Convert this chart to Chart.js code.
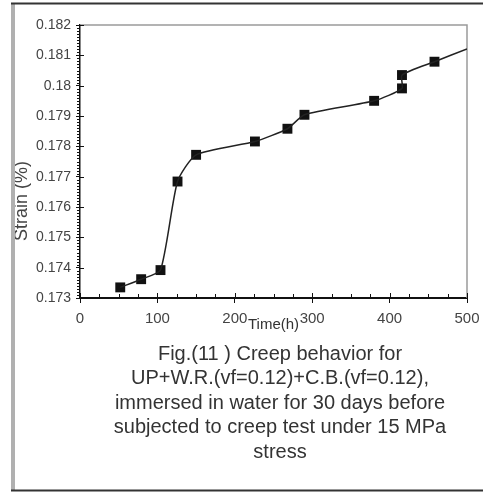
<!DOCTYPE html>
<html>
<head>
<meta charset="utf-8">
<script src="https://cdn.jsdelivr.net/npm/chart.js@4.4.0/dist/chart.umd.min.js"></script>
<style>
  html, body { margin: 0; padding: 0; background: #fff; }
  #chart { display: block; }
</style>
</head>
<body>
<canvas id="chart" width="483" height="496"></canvas>
<script>
// creep readings (time in hours, strain in %)
const hours  = [52, 79, 104, 126, 150, 226, 268, 290, 380, 416, 416, 458];
const strain = [0.17335, 0.17362, 0.17392, 0.17684, 0.17772, 0.17816, 0.17858, 0.17904, 0.1795, 0.17991, 0.18035, 0.18079];
// the fitted curve runs on to the end of the axis
const curveEndHour = 500;
const curveEndStrain = 0.18121;

const captionLines = [
    'Fig.(11 ) Creep behavior for',
    'UP+W.R.(vf=0.12)+C.B.(vf=0.12),',
    'immersed in water for 30 days before',
    'subjected to creep test under 15 MPa',
    'stress'
];

const FONT = '"Liberation Sans", Arial, sans-serif';

let readings = hours.map((h, i) => ({x: h, y: strain[i]}));
let curve = readings.concat([{x: curveEndHour, y: curveEndStrain}]);

// extra drawing: minor ticks, plot frame, y title, caption, page border
const decor = {
    id: 'decor',
    beforeDraw(chart) {
        const ctx = chart.ctx;
        ctx.save();
        ctx.fillStyle = '#fff';
        ctx.fillRect(0, 0, chart.width, chart.height);
        ctx.restore();
    },
    beforeDatasetsDraw(chart) {
        const {ctx, chartArea: a, scales: {x, y}} = chart;
        ctx.save();
        // gray top / right edges of the plot box
        ctx.strokeStyle = '#9a9a9a';
        ctx.lineWidth = 1.5;
        ctx.beginPath();
        ctx.moveTo(a.left, a.top);
        ctx.lineTo(a.right, a.top);
        ctx.lineTo(a.right, a.bottom);
        ctx.stroke();

        ctx.strokeStyle = '#111';
        ctx.lineWidth = 1;
        // y: minor ticks outside, major ticks poke inside
        for (let i = 0; i <= 90; i++) {
            let py = Math.round(y.getPixelForValue(y.min + i * 0.0001)) + 0.5;
            ctx.beginPath();
            if (i % 10 === 0) {
                ctx.moveTo(a.left, py);
                ctx.lineTo(a.left + 4, py);
            } else {
                ctx.moveTo(a.left - 3, py);
                ctx.lineTo(a.left, py);
            }
            ctx.stroke();
        }
        // x: ticks every 25 h on the inside
        for (let i = 0; i <= 20; i++) {
            let px = Math.round(x.getPixelForValue(x.min + i * 25)) + 0.5;
            ctx.beginPath();
            ctx.moveTo(px, a.bottom);
            ctx.lineTo(px, a.bottom - (i % 4 === 0 ? 5 : 4));
            ctx.stroke();
        }
        ctx.restore();
    },
    afterDraw(chart) {
        const ctx = chart.ctx;
        ctx.save();
        // y axis title
        ctx.fillStyle = '#444';
        ctx.font = '18px ' + FONT;
        ctx.textAlign = 'center';
        ctx.textBaseline = 'middle';
        ctx.translate(22, 201);
        ctx.rotate(-Math.PI / 2);
        ctx.fillText('Strain (%)', 0, 0);
        ctx.restore();

        ctx.save();
        ctx.fillStyle = '#333';
        ctx.font = '20px ' + FONT;
        ctx.textAlign = 'center';
        ctx.textBaseline = 'middle';
        captionLines.forEach((line, i) => ctx.fillText(line, 280, 354 + i * 24.5));

        // page border
        ctx.fillStyle = '#b0b0b0';
        ctx.fillRect(11, 3, 4, 488);
        ctx.strokeStyle = '#333';
        ctx.lineWidth = 2;
        ctx.beginPath();
        ctx.moveTo(11, 3.5);
        ctx.lineTo(483, 3.5);
        ctx.moveTo(11, 490.5);
        ctx.lineTo(483, 490.5);
        ctx.stroke();
        ctx.restore();
    }
};

new Chart(document.getElementById('chart'), {
    type: 'scatter',
    data: {
        datasets: [{
            label: 'curve',
            data: curve,
            showLine: true,
            tension: 0.2,
            borderColor: '#222',
            borderWidth: 1.5,
            pointRadius: 0
        }, {
            label: 'readings',
            data: readings,
            showLine: false,
            pointStyle: 'rect',
            pointRadius: 7,
            backgroundColor: '#111',
            borderColor: '#111',
            borderWidth: 0
        }]
    },
    options: {
        responsive: false,
        animation: false,
        layout: {padding: {left: 0, right: 16, top: 25, bottom: 162}},
        plugins: {legend: {display: false}, tooltip: {enabled: false}},
        scales: {
            x: {
                type: 'linear',
                min: 0,
                max: 500,
                ticks: {stepSize: 100, color: '#444', font: {family: FONT, size: 15}, padding: 7, maxRotation: 0},
                grid: {drawOnChartArea: false, color: '#111', tickLength: 5},
                border: {color: '#111', width: 2},
                title: {display: true, text: 'Time(h)', color: '#333', font: {family: FONT, size: 15}, padding: 0},
                afterFit: s => {
                    s.height = 36;
                    // let the end labels hang into the margin
                    s.paddingLeft = 0;
                    s.paddingRight = 0;
                }
            },
            y: {
                min: 0.173,
                max: 0.182,
                ticks: {
                    stepSize: 0.001,
                    color: '#444',
                    font: {family: FONT, size: 14},
                    padding: 5,
                    callback: v => String(+v.toFixed(3))
                },
                grid: {drawOnChartArea: false, color: '#111', tickLength: 4},
                border: {color: '#111', width: 1.5},
                afterFit: s => { s.width = 80; }
            }
        }
    },
    plugins: [decor]
});
</script>
</body>
</html>
